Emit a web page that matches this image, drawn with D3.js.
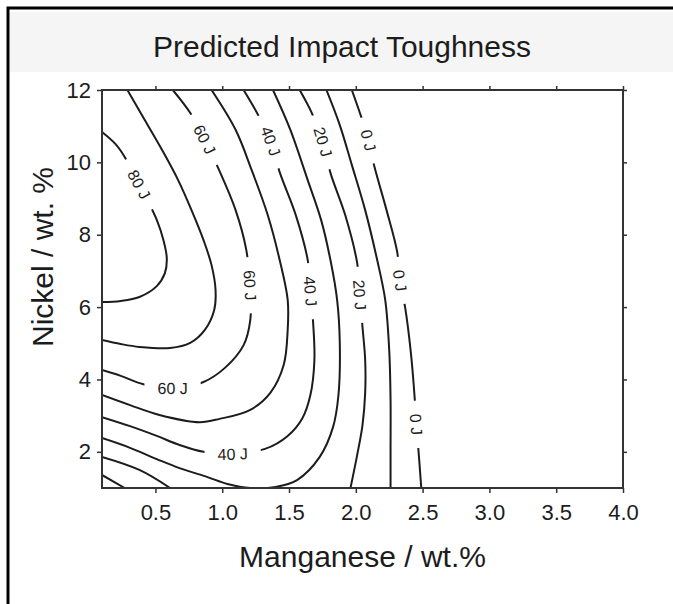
<!DOCTYPE html>
<html>
<head>
<meta charset="utf-8">
<script src="https://cdn.jsdelivr.net/npm/d3@7"></script>
<style>
  html, body { margin: 0; padding: 0; background: #fff; }
  svg { display: block; font-family: "Liberation Sans", Arial, Helvetica, sans-serif; }
</style>
</head>
<body>
<svg id="chart" width="673" height="604"></svg>
<script>
// ---- Axis ranges and tick values ----
const mnDomain = [0.1, 4.0];
const niDomain = [1, 12];
const mnTicks = [0.5, 1.0, 1.5, 2.0, 2.5, 3.0, 3.5, 4.0];
const niTicks = [2, 4, 6, 8, 10, 12];

// ---- Contour lines of predicted toughness, points as [Mn wt.%, Ni wt.%] ----
const c80 = [[0.10,10.84],[0.20,10.51],[0.27,10.15],[0.36,9.51],[0.44,8.96],[0.51,8.41],[0.56,7.85],[0.585,7.35],[0.57,6.93],[0.51,6.58],[0.38,6.28],[0.24,6.17],[0.10,6.14]];
const c70 = [[0.29,12.0],[0.42,11.17],[0.55,10.34],[0.67,9.51],[0.77,8.68],[0.86,7.85],[0.92,7.16],[0.95,6.47],[0.94,5.92],[0.87,5.37],[0.76,5.01],[0.61,4.87],[0.38,4.90],[0.24,4.98],[0.10,5.09]];
const c60 = [[0.63,12.0],[0.76,11.37],[0.87,10.62],[0.97,9.84],[1.10,8.68],[1.18,7.58],[1.21,6.47],[1.21,5.64],[1.16,4.95],[1.02,4.32],[0.86,3.93],[0.65,3.76],[0.41,3.87],[0.24,4.10],[0.10,4.26]];
const c50 = [[0.92,12.0],[1.10,10.90],[1.22,9.79],[1.34,8.55],[1.43,7.30],[1.49,6.20],[1.49,5.37],[1.46,4.40],[1.36,3.63],[1.21,3.16],[0.98,2.91],[0.83,2.82],[0.53,3.02],[0.31,3.29],[0.10,3.57]];
const c40 = [[1.16,12.0],[1.26,11.37],[1.36,10.62],[1.43,9.73],[1.55,8.55],[1.64,7.30],[1.66,6.47],[1.68,5.59],[1.69,4.54],[1.66,3.57],[1.60,2.93],[1.49,2.44],[1.32,2.08],[1.08,1.94],[0.86,2.00],[0.68,2.19],[0.51,2.44],[0.31,2.71],[0.10,2.96]];
const c30 = [[1.38,12.0],[1.51,10.90],[1.64,9.51],[1.74,8.41],[1.81,7.30],[1.86,6.20],[1.88,5.01],[1.87,3.57],[1.83,2.69],[1.73,1.86],[1.56,1.22],[1.40,1.03],[1.21,1.00],[1.04,1.11],[0.89,1.30],[0.68,1.55],[0.51,1.80],[0.31,2.11],[0.10,2.38]];
const c20a = [[1.58,12.0],[1.67,11.37],[1.75,10.62],[1.81,9.71],[1.92,8.55],[2.01,7.22],[2.03,6.33],[2.05,5.45],[2.07,4.54],[2.07,3.63],[2.05,2.74],[2.01,1.91],[1.96,1.00]];
const c20b = [[0.10,1.86],[0.38,1.50],[0.61,1.00]];
const c10a = [[1.78,12.0],[1.88,11.03],[1.97,9.93],[2.07,8.68],[2.16,7.30],[2.22,6.20],[2.25,4.81],[2.26,3.43],[2.26,2.05],[2.26,1.00]];
const c10b = [[0.10,1.36],[0.27,1.00]];
const c0 = [[1.97,12.0],[2.03,11.37],[2.08,10.81],[2.14,9.87],[2.23,8.68],[2.31,7.52],[2.33,6.75],[2.37,5.97],[2.41,4.81],[2.44,3.52],[2.45,2.88],[2.47,1.99],[2.49,1.00]];

// ---- Where each level is labelled along its line ----
const labels80 = [[0.38, 9.40]];
const labels60 = [[0.86, 10.62], [1.21, 6.60], [0.63, 3.80]];
const labels40 = [[1.34, 10.56], [1.66, 6.45], [1.08, 1.95]];
const labels20 = [[1.74, 10.55], [2.03, 6.33]];
const labels0  = [[2.08, 10.60], [2.34, 6.75], [2.45, 2.77]];

const contours = [
  { level: 80, paths: [c80],        labels: labels80 },
  { level: 70, paths: [c70],        labels: [] },
  { level: 60, paths: [c60],        labels: labels60 },
  { level: 50, paths: [c50],        labels: [] },
  { level: 40, paths: [c40],        labels: labels40 },
  { level: 30, paths: [c30],        labels: [] },
  { level: 20, paths: [c20a, c20b], labels: labels20 },
  { level: 10, paths: [c10a, c10b], labels: [] },
  { level: 0,  paths: [c0],         labels: labels0 }
];

// ---- Layout ----
const W = 673, H = 604;
const plot = { left: 102, right: 623, top: 90, bottom: 488 };
const ink = "#1c1c1c";
const axisInk = "#333";

const svg = d3.select("#chart");

// Page frame and the pale title band
svg.append("rect").attr("x", 10).attr("y", 12).attr("width", W - 10).attr("height", 60)
  .attr("fill", "#f5f5f5");
svg.append("path")
  .attr("d", `M8,${H} L8,8 L${W},8`)
  .attr("fill", "none").attr("stroke", "#000").attr("stroke-width", 3);

const x = d3.scaleLinear().domain(mnDomain).range([plot.left, plot.right]);
const y = d3.scaleLinear().domain(niDomain).range([plot.bottom, plot.top]);

// Plot area background
svg.append("rect")
  .attr("x", plot.left).attr("y", plot.top)
  .attr("width", plot.right - plot.left).attr("height", plot.bottom - plot.top)
  .attr("fill", "#fff");

// Clip for contour lines
svg.append("defs").append("clipPath").attr("id", "plotClip")
  .append("rect")
  .attr("x", plot.left).attr("y", plot.top)
  .attr("width", plot.right - plot.left).attr("height", plot.bottom - plot.top);

const line = d3.line()
  .x(d => x(d[0])).y(d => y(d[1]))
  .curve(d3.curveCatmullRom.alpha(0.5));

const gLines = svg.append("g").attr("clip-path", "url(#plotClip)");
contours.forEach(c => {
  c.nodes = gLines.selectAll(null).data(c.paths).join("path")
    .attr("d", line)
    .attr("fill", "none")
    .attr("stroke", ink)
    .attr("stroke-width", 2)
    .attr("stroke-linejoin", "round")
    .nodes();
});

// Snap a label anchor onto its drawn line and read the tangent there
function placeOnLine(nodes, px, py) {
  let best = Infinity, hit = null;
  nodes.forEach(n => {
    const total = n.getTotalLength();
    for (let l = 0; l <= total; l += 1) {
      const p = n.getPointAtLength(l);
      const d = (p.x - px) ** 2 + (p.y - py) ** 2;
      if (d < best) { best = d; hit = { n, l, total, p }; }
    }
  });
  const a = hit.n.getPointAtLength(Math.max(0, hit.l - 5));
  const b = hit.n.getPointAtLength(Math.min(hit.total, hit.l + 5));
  let ang = Math.atan2(b.y - a.y, b.x - a.x) * 180 / Math.PI;
  if (ang > 90) ang -= 180;
  if (ang <= -90) ang += 180;
  return { x: hit.p.x, y: hit.p.y, angle: ang };
}

const gLabels = svg.append("g").attr("clip-path", "url(#plotClip)");
contours.forEach(c => {
  c.labels.forEach(pt => {
    const s = placeOnLine(c.nodes, x(pt[0]), y(pt[1]));
    const g = gLabels.append("g").attr("transform", `translate(${s.x},${s.y}) rotate(${s.angle})`);
    const bg = g.append("rect").attr("fill", "#fff");
    const t = g.append("text")
      .attr("text-anchor", "middle")
      .attr("dy", "0.36em")
      .attr("font-size", 16)
      .attr("fill", ink)
      .text(`${c.level} J`);
    const w = t.node().getComputedTextLength();
    bg.attr("x", -w / 2 - 13).attr("y", -7).attr("width", w + 26).attr("height", 14);
  });
});

// Axes: labelled bottom/left, tick-only top/right
function styleAxis(g) {
  g.select(".domain").remove();
  g.selectAll(".tick line").attr("stroke", axisInk).attr("stroke-width", 1.5);
  g.selectAll(".tick text").attr("fill", ink).attr("font-size", 22)
    .attr("font-family", "\"Liberation Sans\", Arial, sans-serif");
}
svg.append("g").attr("transform", `translate(0,${plot.bottom})`)
  .call(d3.axisBottom(x).tickValues(mnTicks).tickFormat(d3.format(".1f"))
    .tickSizeInner(5).tickSizeOuter(0).tickPadding(11))
  .call(styleAxis);
svg.append("g").attr("transform", `translate(${plot.left},0)`)
  .call(d3.axisLeft(y).tickValues(niTicks).tickFormat(d3.format("d"))
    .tickSizeInner(5).tickSizeOuter(0).tickPadding(6))
  .call(styleAxis);
svg.append("g").attr("transform", `translate(0,${plot.top})`)
  .call(d3.axisTop(x).tickValues(mnTicks).tickFormat("").tickSizeInner(4).tickSizeOuter(0))
  .call(styleAxis);
svg.append("g").attr("transform", `translate(${plot.right},0)`)
  .call(d3.axisRight(y).tickValues(niTicks).tickFormat("").tickSizeInner(4).tickSizeOuter(0))
  .call(styleAxis);

// Plot frame
svg.append("rect")
  .attr("x", plot.left).attr("y", plot.top)
  .attr("width", plot.right - plot.left).attr("height", plot.bottom - plot.top)
  .attr("fill", "none").attr("stroke", axisInk).attr("stroke-width", 2);

// Titles
svg.append("text")
  .attr("x", 342).attr("y", 57)
  .attr("text-anchor", "middle").attr("font-size", 30).attr("fill", ink)
  .text("Predicted Impact Toughness");
svg.append("text")
  .attr("x", (plot.left + plot.right) / 2).attr("y", 567)
  .attr("text-anchor", "middle").attr("font-size", 30).attr("fill", ink)
  .text("Manganese / wt.%");
svg.append("text")
  .attr("transform", `translate(53,${(plot.top + plot.bottom) / 2 - 32}) rotate(-90)`)
  .attr("text-anchor", "middle").attr("font-size", 30).attr("fill", ink)
  .text("Nickel / wt. %");
</script>
</body>
</html>
